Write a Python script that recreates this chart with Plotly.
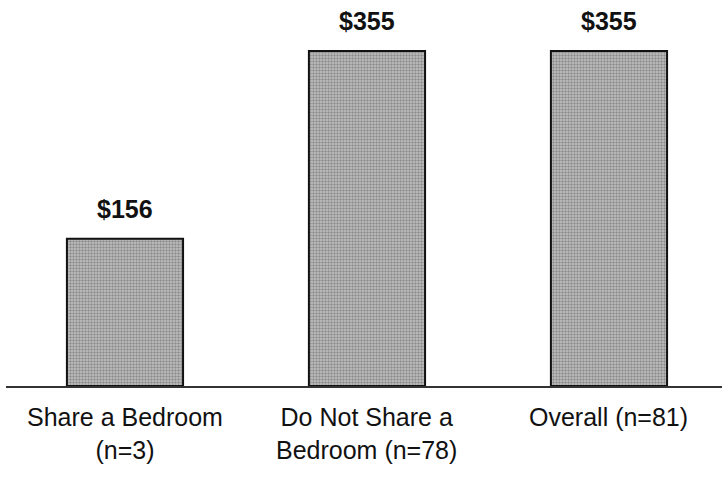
import plotly.graph_objects as go

# Average amount by bedroom-sharing status
categories = ["Share a Bedroom<br>(n=3)", "Do Not Share a<br>Bedroom (n=78)", "Overall (n=81)"]
values = [156, 355, 355]
value_labels = ["$156", "$355", "$355"]

x_pos = list(range(len(categories)))

fig = go.Figure()
fig.add_trace(go.Bar(
    x=x_pos,
    y=values,
    width=0.48,
    marker=dict(
        color="#a0a0a0",
        line=dict(color="#111111", width=2),
        pattern=dict(shape=".", fgcolor="#555555", bgcolor="#c4c4c4",
                     size=3, solidity=0.5),
    ),
    hoverinfo="skip",
))

# value labels above bars
for xi, v, lab in zip(x_pos, values, value_labels):
    fig.add_annotation(x=xi, y=v, text=f"<b>{lab}</b>", showarrow=False,
                       yanchor="bottom", yshift=14,
                       font=dict(family="Liberation Sans, Arial", size=25, color="#111111"))

# category labels under the baseline
for xi, cat in zip(x_pos, categories):
    fig.add_annotation(x=xi, y=0, text=cat, showarrow=False,
                       yanchor="top", yshift=-15,
                       font=dict(family="Liberation Sans, Arial", size=25, color="#111111"))

fig.update_layout(
    width=722, height=477,
    margin=dict(l=6, r=0, t=0, b=91),
    paper_bgcolor="white", plot_bgcolor="white",
    showlegend=False,
    xaxis=dict(range=[-0.4917, 2.467], showticklabels=False, ticks="",
               showgrid=False, zeroline=False,
               showline=True, linecolor="#333333", linewidth=2),
    yaxis=dict(range=[0, 409], visible=False, showgrid=False, zeroline=False),
)

fig.write_html("out.html")
